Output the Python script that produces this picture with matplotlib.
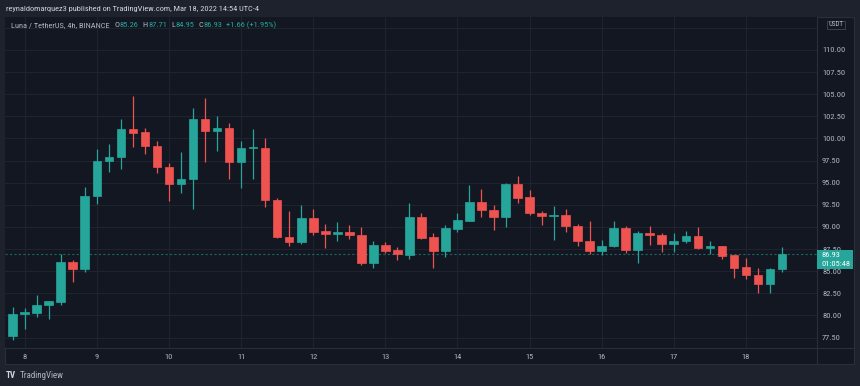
import matplotlib
matplotlib.use("Agg")
import matplotlib.pyplot as plt
from matplotlib import font_manager
from matplotlib.patches import Rectangle
from matplotlib.lines import Line2D

# TradingView uses a narrow UI font; take a narrow face when one is installed
installed = {f.name for f in font_manager.fontManager.ttflist}
narrow = [n for n in ['Liberation Sans Narrow', 'Roboto Condensed', 'Open Sans Condensed']
          if n in installed]
plt.rcParams['font.family'] = narrow + ['DejaVu Sans']
plt.rcParams['font.stretch'] = 'condensed'

# 4h candles, Mar 7 20:00 .. Mar 18 16:00
opens = [77.72, 80.19, 80.32, 81.19, 81.56, 86.08, 85.25, 93.46, 97.46, 97.87,
         101.07, 100.70, 99.19, 96.81, 94.89, 95.38, 102.24, 100.85, 101.15, 97.31,
         98.93, 98.96, 93.05, 88.87, 88.34, 91.02, 89.51, 89.24, 89.43, 89.09,
         85.97, 87.93, 87.36, 86.88, 91.13, 88.83, 87.32, 89.81, 90.72, 92.82,
         91.92, 91.16, 94.86, 93.35, 91.62, 91.28, 91.36, 90.11, 88.46, 87.25,
         87.85, 89.89, 87.40, 89.32, 89.13, 88.02, 88.38, 89.02, 87.66, 87.81,
         86.84, 85.43, 84.54, 83.59, 85.26]
highs = [81.00, 80.82, 82.32, 81.67, 86.95, 86.27, 94.49, 98.78, 99.38, 102.24,
         104.80, 101.22, 99.72, 97.27, 98.47, 103.41, 104.61, 102.54, 101.79, 99.72,
         101.07, 100.02, 93.24, 91.81, 92.52, 92.03, 90.34, 90.60, 90.19, 90.00,
         88.38, 88.27, 87.70, 92.71, 91.58, 89.28, 90.26, 91.62, 94.75, 94.29,
         92.49, 94.94, 95.80, 94.22, 91.85, 92.37, 92.03, 90.30, 90.71, 88.53,
         90.68, 90.11, 89.55, 90.08, 89.36, 89.32, 89.59, 90.04, 88.42, 87.85,
         86.84, 86.53, 85.35, 85.35, 87.71]
lows = [77.23, 78.44, 79.87, 79.57, 81.19, 83.82, 84.88, 92.60, 96.18, 96.52,
        99.07, 98.25, 96.14, 92.97, 93.81, 92.00, 97.38, 98.59, 95.38, 94.44,
        95.42, 92.30, 88.70, 87.82, 88.11, 89.13, 87.66, 88.45, 88.64, 85.71,
        85.37, 87.06, 86.27, 86.38, 88.64, 85.37, 86.64, 89.47, 90.72, 91.10,
        89.62, 89.97, 92.75, 91.32, 90.19, 88.57, 89.47, 87.85, 86.92, 86.84,
        87.70, 87.10, 85.97, 87.93, 87.14, 87.21, 88.23, 87.47, 86.97, 86.42,
        84.24, 84.16, 82.58, 82.58, 84.95]
closes = [80.17, 80.41, 81.19, 81.60, 86.08, 85.25, 93.50, 97.46, 97.94, 101.11,
          100.66, 99.15, 96.81, 94.89, 95.42, 102.24, 100.85, 101.15, 97.31, 98.96,
          98.96, 93.05, 88.84, 88.34, 91.02, 89.47, 89.24, 89.43, 89.06, 85.97,
          87.93, 87.32, 86.92, 91.13, 88.79, 87.32, 89.89, 90.79, 92.82, 91.92,
          91.16, 94.86, 93.31, 91.62, 91.28, 91.36, 90.08, 88.42, 87.25, 87.85,
          89.89, 87.40, 89.32, 89.13, 88.02, 88.38, 88.95, 87.66, 87.81, 86.76,
          85.39, 84.54, 83.59, 85.22, 86.93]

day_labels = ['8', '9', '10', '11', '12', '13', '14', '15', '16', '17', '18']
price_ticks = [77.5, 80.0, 82.5, 85.0, 87.5, 90.0, 92.5, 95.0, 97.5, 100.0,
               102.5, 105.0, 107.5, 110.0, 112.5]
last_price = 86.93
countdown = '01:05:48'

UP = '#26a69a'
DOWN = '#ef5350'
BG = '#131722'
OUTER = '#1e222d'
GRID = '#1f2330'
BORDER = '#2a2e39'
TXT = '#b2b5be'
FS = 6.0

W, H = 860, 386
fig = plt.figure(figsize=(W / 100, H / 100), dpi=100, facecolor=OUTER)


def fx(px):
    return px / W


def fy(py):
    return 1 - py / H


# panel frame
fig.patches.append(Rectangle((fx(5.3), fy(364.3)), fx(854) - fx(5.3), fy(16.7) - fy(364.3),
                             transform=fig.transFigure, facecolor=BG, edgecolor=BORDER,
                             lw=0.8, zorder=-2))

left, right, top, bottom = 5.3, 816.5, 16.7, 348.3
ax = fig.add_axes([fx(left), fy(bottom), fx(right) - fx(left), fy(top) - fy(bottom)])
ax.set_facecolor(BG)

x = list(range(len(opens)))
colors = [UP if c >= o else DOWN for o, c in zip(opens, closes)]
body_low = [min(o, c) for o, c in zip(opens, closes)]
body_h = [max(abs(c - o), 0.08) for o, c in zip(opens, closes)]

ax.vlines(x, lows, highs, colors=colors, lw=0.9, zorder=2)
ax.bar(x, body_h, bottom=body_low, width=0.72, color=colors, edgecolor=colors,
       lw=0.5, zorder=3)

ax.axhline(last_price, color=UP, lw=0.8, alpha=0.55, ls=(0, (2, 2)), zorder=1)

ax.set_xlim(-0.616, 66.87)
ax.set_ylim(76.29, 113.76)

ax.set_xticks([1 + 6 * i for i in range(len(day_labels))])
ax.set_xticklabels(day_labels)
ax.set_yticks(price_ticks)
# top level sits under the currency badge, so its label stays hidden
ax.set_yticklabels([f'{p:.2f}' if p < 112 else '' for p in price_ticks])
ax.yaxis.tick_right()
ax.tick_params(axis='x', length=0, pad=4, labelsize=FS, colors=TXT)
ax.tick_params(axis='y', length=0, pad=4, labelsize=FS, colors=TXT)
for lab in ax.get_yticklabels():
    lab.set_horizontalalignment('left')
ax.grid(True, color=GRID, lw=0.8, zorder=0)
ax.set_axisbelow(True)
for side in ['top', 'left']:
    ax.spines[side].set_visible(False)
for side in ['right', 'bottom']:
    ax.spines[side].set_color(BORDER)
    ax.spines[side].set_linewidth(0.8)

# axis separators
fig.lines.append(Line2D([fx(816.5), fx(816.5)], [fy(348.3), fy(364.3)],
                        transform=fig.transFigure, color=BORDER, lw=0.8))
fig.lines.append(Line2D([fx(816.5), fx(854)], [fy(348.3), fy(348.3)],
                        transform=fig.transFigure, color=BORDER, lw=0.8))

# last price label
fig.patches.append(Rectangle((fx(816.5), fy(268.5)), fx(853.3) - fx(816.5), fy(250) - fy(268.5),
                             transform=fig.transFigure, facecolor=UP, edgecolor='none',
                             zorder=2))
fig.text(fx(821), fy(254.6), f'{last_price:.2f}', color='white', fontsize=FS,
         va='center', ha='left', zorder=4)
fig.text(fx(821), fy(263.8), countdown, color='white', fontsize=FS,
         va='center', ha='left', zorder=4)

# currency badge
fig.patches.append(Rectangle((fx(827), fy(29)), fx(845) - fx(827), fy(21) - fy(29),
                             transform=fig.transFigure, facecolor=BG, edgecolor='#434651',
                             lw=0.6, zorder=3))
fig.text(fx(836), fy(25), 'USDT', color=TXT, fontsize=5.0, va='center', ha='center', zorder=4)

# header
fig.text(fx(6), fy(9), 'reynaldomarquez3 published on TradingView.com, Mar 18, 2022 14:54 UTC-4',
         color='#d1d4dc', fontsize=FS, va='center', ha='left')

# legend line, pieces chained by their measured widths
legend = [
    ('Luna / TetherUS, 4h, BINANCE', TXT, 4.5),
    ('O', TXT, 0.5), ('85.26', UP, 4.0),
    ('H', TXT, 0.5), ('87.71', UP, 4.0),
    ('L', TXT, 0.5), ('84.95', UP, 4.0),
    ('C', TXT, 0.5), ('86.93', UP, 4.0),
    ('+1.66 (+1.95%)', UP, 0),
]
renderer = fig.canvas.get_renderer()
px = 11
for s, c, gap in legend:
    t = fig.text(fx(px), fy(25), s, color=c, fontsize=FS, va='center', ha='left')
    px += t.get_window_extent(renderer).width + gap

# footer
fig.text(fx(6), fy(376), 'TV', color='#d1d4dc', fontsize=6.5, fontweight='bold',
         va='center', ha='left')
fig.text(fx(20), fy(376), 'TradingView', color=TXT, fontsize=6.5,
         va='center', ha='left')

fig.savefig('out.png', dpi=100, facecolor=OUTER)
